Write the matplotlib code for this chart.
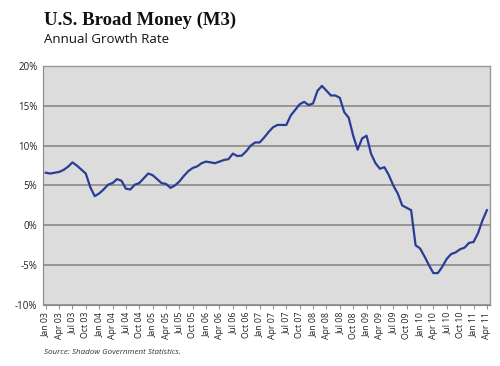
import matplotlib
matplotlib.use("Agg")
import matplotlib.pyplot as plt
import numpy as np

months = ["Jan", "Feb", "Mar", "Apr", "May", "Jun", "Jul", "Aug", "Sep", "Oct", "Nov", "Dec"]
dates = [f"{months[m]} {y:02d}" for y in range(3, 12) for m in range(12)][:100]

growth = [6.6, 6.5, 6.6, 6.7, 6.95, 7.35, 7.9, 7.5, 7.0, 6.5,
          4.8, 3.66, 4.0, 4.5, 5.1, 5.3, 5.8, 5.6, 4.6, 4.5,
          5.1, 5.3, 5.9, 6.5, 6.3, 5.8, 5.3, 5.2, 4.7, 5.0,
          5.5, 6.2, 6.8, 7.2, 7.4, 7.8, 8.0, 7.9, 7.8, 8.0,
          8.2, 8.3, 9.0, 8.7, 8.75, 9.3, 10.0, 10.4, 10.4, 11.0,
          11.7, 12.3, 12.6, 12.6, 12.6, 13.8, 14.5, 15.2, 15.5, 15.1,
          15.3, 16.9, 17.5, 16.9, 16.3, 16.3, 16.0, 14.2, 13.5, 11.25,
          9.5, 10.9, 11.25, 9.0, 7.8, 7.1, 7.3, 6.3, 5.0, 4.0,
          2.5, 2.2, 1.9, -2.5, -2.9, -3.9, -5.0, -6.0, -6.0, -5.2,
          -4.2, -3.6, -3.4, -3.0, -2.8, -2.2, -2.1, -1.0, 0.6, 1.9]

yticks = [-10, -5, 0, 5, 10, 15, 20]

fig = plt.figure(figsize=(5, 3.66), dpi=100)
ax = fig.add_axes([0.086, 0.1667, 0.894, 0.653])
ax.set_facecolor("#dcdcdc")
x = np.arange(len(growth))
ax.plot(x, growth, color="#2a3d96", lw=1.6, zorder=3)
ax.set_xlim(-0.6, len(growth) - 0.3)
ax.set_ylim(-10, 20)
ax.set_yticks(yticks)
ax.set_yticklabels([f"{v}%" for v in yticks], fontsize=7, color="#222222", family="Open Sans")
ax.yaxis.grid(True, color="#8a8a8a", lw=1.2, zorder=1)
ax.tick_params(axis="y", length=0, pad=4)
tick_idx = list(range(0, len(growth), 3))
ax.set_xticks(tick_idx)
ax.set_xticklabels([dates[i] for i in tick_idx], rotation=90, fontsize=6.3, color="#222222", family="Open Sans")
ax.tick_params(axis="x", length=3, width=0.6, color="#777777", pad=2, direction="out")
for s in ["top", "right"]:
    ax.spines[s].set_color("#999999")
    ax.spines[s].set_linewidth(1.0)
ax.spines["left"].set_color("#888888")
ax.spines["bottom"].set_color("#888888")
ax.spines["left"].set_linewidth(0.8)
ax.spines["bottom"].set_linewidth(0.8)

fig.text(0.088, 0.945, "U.S. Broad Money (M3)", fontsize=13.5, fontweight="bold",
         family="Liberation Serif", color="#111111", va="center")
fig.text(0.088, 0.893, "Annual Growth Rate", fontsize=9.5, family="Open Sans",
         color="#111111", va="center")
fig.text(0.088, 0.037, "Source: Shadow Government Statistics.", fontsize=5.8,
         style="italic", family="Open Sans", color="#333333", va="center")

fig.savefig("out.png", dpi=100)
